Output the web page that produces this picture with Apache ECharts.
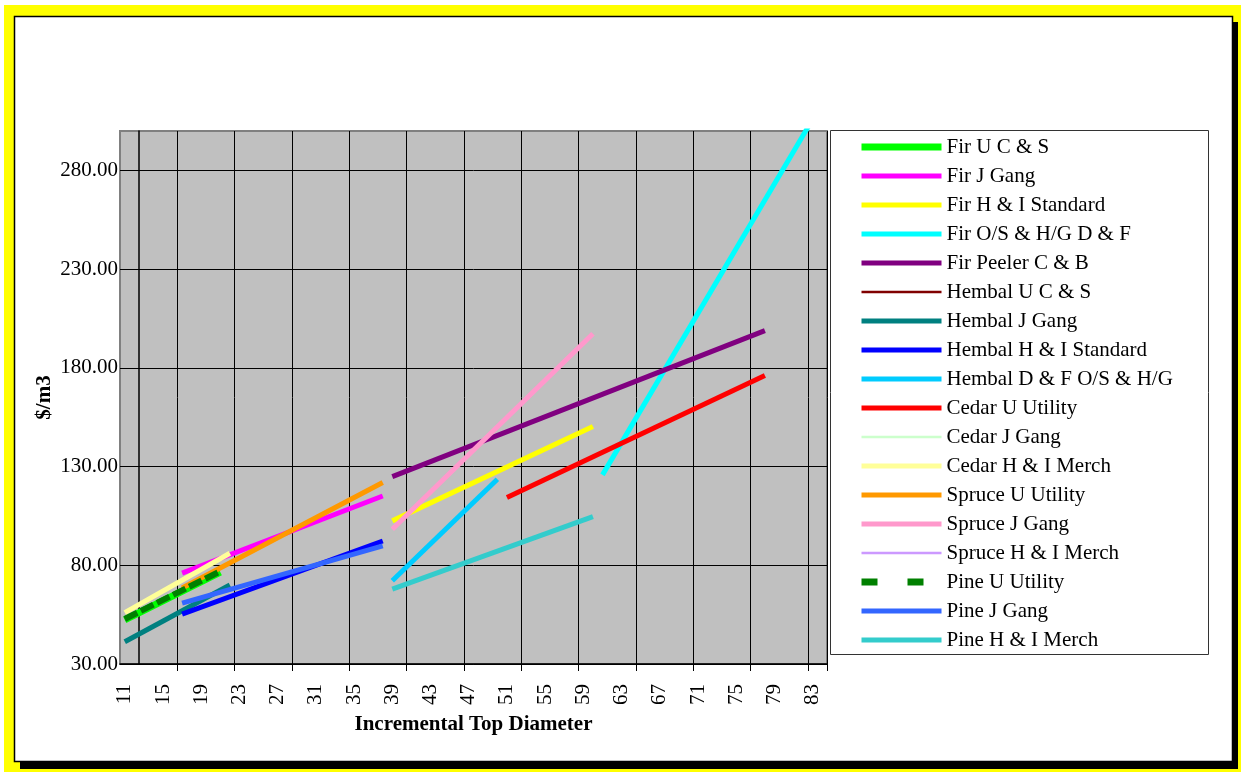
<!DOCTYPE html>
<html>
<head>
<meta charset="utf-8">
<title>Incremental Top Diameter</title>
<script src="https://cdn.jsdelivr.net/npm/echarts@6/dist/echarts.min.js"></script>
<style>
  html, body { margin: 0; padding: 0; background: #ffffff; }
  #chart { width: 1241px; height: 772px; }
</style>
</head>
<body>
<div id="chart"></div>
<script>
// Top diameters on the category axis (one band per diameter)
const diameters = ['11','12','13','14','15','16','17','18','19','20','21','22','23','24','25','26','27','28','29','30',
  '31','32','33','34','35','36','37','38','39','40','41','42','43','44','45','46','47','48','49','50',
  '51','52','53','54','55','56','57','58','59','60','61','62','63','64','65','66','67','68','69','70',
  '71','72','73','74','75','76','77','78','79','80','81','82','83','84'];

// Value-axis tick labels ($/m3)
const priceTicks = [30, 80, 130, 180, 230, 280];

// Series values: [top diameter, $/m3]
const firUCS        = [[11, 52.3], [21, 76.6]];
const firJGang      = [[17, 76.0], [38, 115.1]];
const firHIStandard = [[39, 102.5], [60, 150.3]];
const firOSHGDF     = [[61, 125.8], [83, 306.0]];
const firPeelerCB   = [[39, 124.9], [78, 198.9]];
const hembalUCS     = [];
const hembalJGang   = [[11, 41.3], [22, 70.0]];
const hembalHIStd   = [[17, 55.3], [38, 92.3]];
const hembalDFOSHG  = [[39, 72.2], [50, 123.6]];
const cedarUUtility = [[51, 114.3], [78, 176.1]];
const cedarJGang    = [];
const cedarHIMerch  = [[11, 56.0], [22, 86.1]];
const spruceUUtility= [[17, 68.5], [38, 121.9]];
const spruceJGang   = [[39, 98.3], [60, 197.3]];
const spruceHIMerch = [];
const pineUUtility  = [[11, 52.8], [21, 77.0]];
const pineJGang     = [[17, 60.8], [38, 89.8]];
const pineHIMerch   = [[39, 67.9], [60, 104.7]];

const seriesNames = ['Fir U C & S', 'Fir J Gang', 'Fir H & I Standard', 'Fir O/S & H/G D & F', 'Fir Peeler C & B',
  'Hembal U C & S', 'Hembal J Gang', 'Hembal H & I Standard', 'Hembal D & F O/S & H/G',
  'Cedar U Utility', 'Cedar J Gang', 'Cedar H & I Merch',
  'Spruce U Utility', 'Spruce J Gang', 'Spruce H & I Merch',
  'Pine U Utility', 'Pine J Gang', 'Pine H & I Merch'];
const seriesValues = [firUCS, firJGang, firHIStandard, firOSHGDF, firPeelerCB,
  hembalUCS, hembalJGang, hembalHIStd, hembalDFOSHG,
  cedarUUtility, cedarJGang, cedarHIMerch,
  spruceUUtility, spruceJGang, spruceHIMerch,
  pineUUtility, pineJGang, pineHIMerch];

// Line styles per series
const lineStyles = [
  { color: '#00FF00', width: 7 },
  { color: '#FF00FF', width: 5 },
  { color: '#FFFF00', width: 5 },
  { color: '#00FFFF', width: 5 },
  { color: '#800080', width: 5 },
  { color: '#800000', width: 2.5 },
  { color: '#008080', width: 5 },
  { color: '#0000FF', width: 5 },
  { color: '#00CCFF', width: 5 },
  { color: '#FF0000', width: 5 },
  { color: '#CCFFCC', width: 2.5 },
  { color: '#FFFF99', width: 5 },
  { color: '#FF9900', width: 5 },
  { color: '#FF99CC', width: 5 },
  { color: '#CC99FF', width: 2.5 },
  { color: '#008000', width: 6, type: [14, 4] },
  { color: '#3366FF', width: 5 },
  { color: '#33CCCC', width: 5 }
];

const FONT = 'Liberation Serif, Times New Roman, serif';

const series = seriesNames.map((name, i) => ({
  name: name,
  type: 'line',
  symbol: 'none',
  showSymbol: false,
  clip: true,
  silent: true,
  data: seriesValues[i].map(p => [String(p[0]), p[1]]),
  itemStyle: { color: lineStyles[i].color },
  lineStyle: {
    color: lineStyles[i].color,
    width: lineStyles[i].width,
    type: lineStyles[i].type || 'solid',
    cap: 'butt'
  }
}));

const legendData = seriesNames.map((name) => {
  const item = { name: name };
  if (name === 'Pine U Utility') {
    item.lineStyle = { type: [16, 30], width: 7, color: '#008000' };
  }
  return item;
});

// Vertical grid/ticks every sixth band boundary
const gridEvery = (index) => index > 0 && index % 6 === 0;

const chart = echarts.init(document.getElementById('chart'), null, { renderer: 'canvas' });
chart.setOption({
  animation: false,
  backgroundColor: '#ffffff',
  graphic: [
    { type: 'rect', z: -30, silent: true, shape: { x: 4, y: 5, width: 1237, height: 767 }, style: { fill: '#FFFF00' } },
    { type: 'rect', z: -29, silent: true, shape: { x: 20, y: 22, width: 1218, height: 747 }, style: { fill: '#000000' } },
    { type: 'rect', z: -28, silent: true, shape: { x: 14.5, y: 16.5, width: 1218, height: 745 }, style: { fill: '#ffffff', stroke: '#000000', lineWidth: 1.5 } },
    { type: 'rect', z: -27, silent: true, shape: { x: 830.5, y: 130.5, width: 378, height: 524 }, style: { fill: '#ffffff', stroke: '#333333', lineWidth: 1 } }
  ],
  grid: {
    left: 120, right: 414, top: 131, bottom: 108,
    show: true,
    backgroundColor: '#C0C0C0',
    borderColor: '#808080',
    borderWidth: 2
  },
  legend: {
    orient: 'vertical',
    left: 858,
    top: 136.5,
    padding: 0,
    itemWidth: 80,
    itemHeight: 12,
    itemGap: 8,
    selectedMode: false,
    data: legendData,
    itemStyle: { opacity: 0 },
    lineStyle: { width: 'inherit' },
    textStyle: { fontFamily: FONT, fontSize: 21, color: '#000000', lineHeight: 21 }
  },
  xAxis: {
    type: 'category',
    data: diameters,
    boundaryGap: true,
    name: 'Incremental Top Diameter',
    nameLocation: 'middle',
    nameGap: 50,
    nameMoveOverlap: false,
    nameTextStyle: { fontFamily: FONT, fontSize: 21, fontWeight: 'bold', color: '#000000' },
    axisLine: { show: true, onZero: false, lineStyle: { color: '#000000', width: 1.5 } },
    axisTick: { show: true, interval: gridEvery, length: 7, lineStyle: { color: '#000000', width: 1 } },
    axisLabel: { interval: 3, rotate: 90, margin: 20, fontFamily: FONT, fontSize: 21, color: '#000000' },
    splitLine: { show: true, interval: gridEvery, lineStyle: { color: '#000000', width: 1 } }
  },
  yAxis: {
    type: 'value',
    min: 30,
    max: 300,
    offset: -19,
    name: '$/m3',
    nameLocation: 'middle',
    nameRotate: 90,
    nameGap: 84,
    nameMoveOverlap: false,
    nameTextStyle: { fontFamily: FONT, fontSize: 21, fontWeight: 'bold', color: '#000000' },
    axisLine: { show: true, lineStyle: { color: '#000000', width: 1.5 } },
    axisTick: { show: true, length: 9, customValues: priceTicks, lineStyle: { color: '#000000', width: 1 } },
    axisLabel: {
      customValues: priceTicks,
      margin: 21,
      fontFamily: FONT, fontSize: 21, color: '#000000',
      formatter: (v) => v.toFixed(2)
    },
    splitLine: { show: true, lineStyle: { color: '#000000', width: 1 } }
  },
  series: series
});
</script>
</body>
</html>
